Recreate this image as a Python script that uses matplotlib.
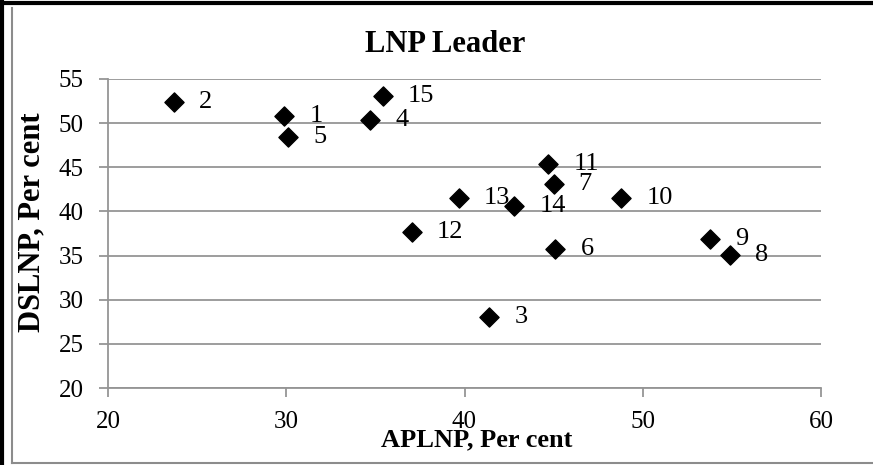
import numpy as np
import matplotlib.pyplot as plt
from matplotlib.lines import Line2D

plt.rcParams['font.family'] = ['Liberation Serif', 'DejaVu Serif']

# values
leaders = ['1', '2', '3', '4', '5', '6', '7', '8', '9', '10', '11', '12', '13', '14', '15']
aplnp = [29.9, 23.7, 41.4, 34.7, 30.1, 45.1, 45.0, 54.9, 53.8, 48.8, 44.7, 37.05, 39.7, 42.8, 35.4]
dslnp = [50.8, 52.4, 28.0, 50.3, 48.4, 35.8, 43.1, 35.1, 36.9, 41.5, 45.4, 37.65, 41.5, 40.6, 53.1]

W, H = 873, 465
fig = plt.figure(figsize=(W / 100, H / 100), dpi=100)
ax = fig.add_axes([108 / W, 1 - 388 / H, (821 - 108) / W, (388 - 79) / H])

ax.scatter(aplnp, dslnp, marker='D', s=95, color='black', zorder=3)
for lab, x, y in zip(leaders, aplnp, dslnp):
    ax.annotate(lab, (x, y), xytext=(25, 0), textcoords='offset pixels',
                ha='left', va='center', fontsize=19, zorder=4)

ax.set_xlim(20, 60)
ax.set_ylim(20, 55)
ax.set_xticks(np.arange(20, 61, 10))
ax.set_yticks(np.arange(20, 56, 5))
ax.yaxis.grid(True, color='#959595', linewidth=1.3)
ax.set_axisbelow(True)
for s in ['top', 'right']:
    ax.spines[s].set_visible(False)
for s in ['left', 'bottom']:
    ax.spines[s].set_color('#959595')
    ax.spines[s].set_linewidth(1.3)
ax.tick_params(direction='out', length=6.5, width=1.3, color='#959595',
               labelsize=18)
ax.tick_params(axis='y', pad=11)
ax.tick_params(axis='x', pad=10)

fig.text(477 / W, 1 - 440 / H, 'APLNP, Per cent', ha='center', va='center',
         fontsize=19, fontweight='bold')
fig.text(32 / W, 1 - 222 / H, 'DSLNP, Per cent', ha='center', va='center',
         rotation=90, fontsize=22, fontweight='bold')
fig.text(445 / W, 1 - 45 / H, 'LNP Leader', ha='center', va='center',
         fontsize=22, fontweight='bold')

# chart frame
fig.add_artist(Line2D([12 / W, 12 / W], [2 / H, 1 - 8 / H], transform=fig.transFigure,
                      color='#8c8c8c', linewidth=1.5))
fig.add_artist(Line2D([12 / W, 1], [2.5 / H, 2.5 / H], transform=fig.transFigure,
                      color='#8c8c8c', linewidth=1.5))
fig.add_artist(Line2D([1.5 / W, 1.5 / W], [0, 1], transform=fig.transFigure,
                      color='black', linewidth=3))
fig.add_artist(Line2D([0, 1], [1 - 3.5 / H, 1 - 3.5 / H], transform=fig.transFigure,
                      color='black', linewidth=3))

fig.savefig('out.png', dpi=100)
